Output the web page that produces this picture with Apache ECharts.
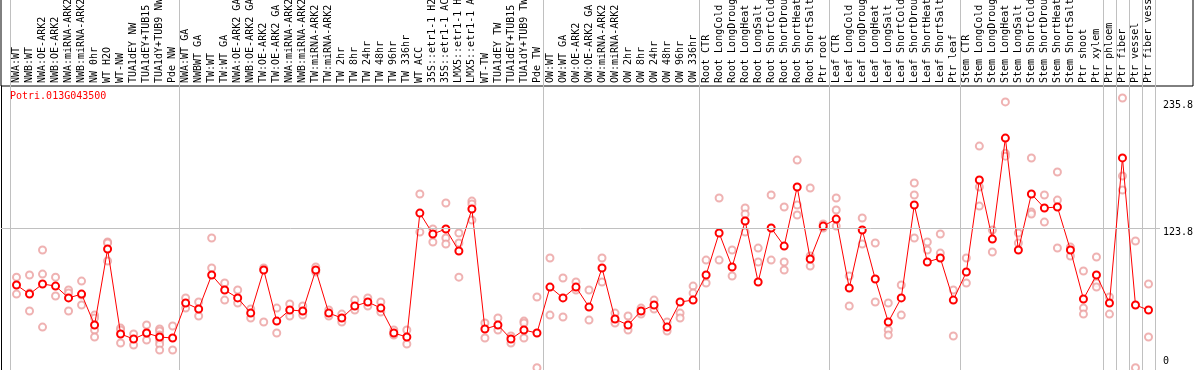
<!DOCTYPE html>
<html><head><meta charset="utf-8">
<script src="https://cdn.jsdelivr.net/npm/echarts@6/dist/echarts.min.js"></script>
<style>html,body{margin:0;padding:0;background:#fff}#c{width:1194px;height:370px}</style>
</head><body><div id="c"></div>
<script>
const geneId = 'Potri.013G043500';
const categories = [
 'NWA:WT','NWB:WT','NWA:OE-ARK2','NWB:OE-ARK2','NWA:miRNA-ARK2','NWB:miRNA-ARK2','NW 0hr','WT H2O','WT-NW','TUA1dEY NW','TUA1dEY+TUB15 NW','TUA1dY+TUB9 NW','Pde NW',
 'NWA:WT GA','NWBWT GA','TW:WT','TW:WT GA','NWA:OE-ARK2 GA','NWB:OE-ARK2 GA','TW:OE-ARK2','TW:OE-ARK2 GA','NWA:miRNA-ARK2 GA','NWB:miRNA-ARK2 GA','TW:miRNA-ARK2','TW:miRNA-ARK2 GA',
 'TW 2hr','TW 8hr','TW 24hr','TW 48hr','TW 96hr','TW 336hr','WT ACC','35S::etr1-1 H2O','35S::etr1-1 ACC','LMX5::etr1-1 H2O','LMX5::etr1-1 ACC','WT-TW','TUA1dEY TW','TUA1dEY+TUB15 TW','TUA1dY+TUB9 TW','Pde TW',
 'OW:WT','OW:WT GA','OW:OE-ARK2','OW:OE-ARK2 GA','OW:miRNA-ARK2','OW:miRNA-ARK2 GA','OW 2hr','OW 8hr','OW 24hr','OW 48hr','OW 96hr','OW 336hr',
 'Root CTR','Root LongCold','Root LongDrought','Root LongHeat','Root LongSalt','Root ShortCold','Root ShortDrought','Root ShortHeat','Root ShortSalt','Ptr root',
 'Leaf CTR','Leaf LongCold','Leaf LongDrought','Leaf LongHeat','Leaf LongSalt','Leaf ShortCold','Leaf ShortDrought','Leaf ShortHeat','Leaf ShortSalt','Ptr leaf',
 'Stem CTR','Stem LongCold','Stem LongDrought','Stem LongHeat','Stem LongSalt','Stem ShortCold','Stem ShortDrought','Stem ShortHeat','Stem ShortSalt','Ptr shoot','Ptr xylem',
 'Ptr phloem','Ptr fiber','Ptr vessel','Ptr fiber vessel'
];
// index of first category of each group (vertical separators)
const groupStarts = [0,13,41,53,63,73,84,85,86,87];
const meanValues = [
 73.2,65.2,74.1,72.3,61.8,65.2,37.8,105.1,29.9,25.4,30.7,27.2,26.3,
 57.3,52.0,82.1,68.8,61.8,48.4,86.5,41.3,51.1,50.2,86.5,48.4,44.0,54.6,58.2,52.8,30.7,27.2,136.9,118.4,122.8,103.3,140.5,34.3,37.8,25.4,33.4,30.7,
 71.4,61.8,71.4,53.7,88.3,43.1,37.8,50.2,55.5,36.0,58.2,59.9,
 82.1,119.3,89.2,129.9,75.9,123.7,107.7,160.0,96.2,125.4,
 131.6,70.6,121.9,78.5,40.5,61.8,144.0,93.6,97.1,59.9,
 84.7,166.2,113.9,203.3,104.2,153.8,141.4,142.3,104.2,60.8,82.1,
 57.3,185.7,55.5,51.1
];
const replicateValues = [
 [80.2,65.2],[82.1,50.2,66.1],[104.2,82.9,36.0],[80.2,63.5],[68.8,66.1,50.2],[76.7,55.5,64.4],[46.6,44.0,33.4,27.2],[111.3,110.4,94.5],[35.1,21.9,33.4],[29.9,20.1],[37.8,24.5,30.7],[34.3,32.5,28.9,24.5,21.0,15.7],[36.9,15.7],
 [61.8,52.8],[58.2,45.8],[114.8,88.3],[75.0,59.9],[68.8,57.3],[52.0,44.0],[88.3,40.5],[52.8,30.7],[56.4,45.8],[54.6,46.6],[89.2,84.7],[51.1,45.8],[47.5,40.5],[59.9,51.1],[61.8,54.6],[58.2,49.3],[33.4,28.9],[33.4,21.0],[153.8,120.1],[122.8,111.3],[145.8,114.8,109.5],[119.3,110.4,80.2],[147.5,144.9,130.7],[39.6,26.3],[44.0,33.4],[28.1,21.9],[41.3,39.6,26.3],[62.6,0],
 [97.1,46.6],[79.4,44.9],[75.9,68.8],[68.8,42.2],[97.1,75.9],[48.4,39.6],[45.8,33.4],[52.8,47.5],[59.9,52.0],[40.5,32.5],[48.4,44.0],[72.3,66.1],
 [95.3,75.0],[150.2,95.3],[104.2,81.2],[141.4,136.1,120.1],[105.9,93.6],[152.9,95.3],[142.3,93.6,86.5],[183.8,144.0,135.2],[159.1,98.9,90.0],[127.2,123.7],
 [150.2,139.6,125.4],[81.2,54.6],[132.5,109.5],[110.4,58.2],[57.3,33.4,28.9],[73.2,46.6],[163.5,152.9,114.8],[111.3,104.2],[118.4,101.5],[68.8,28.1],
 [97.1,75.0],[196.2,160.0,143.1],[121.9,102.4],[235.3,189.8,187.3],[119.3,110.4],[185.6,137.8,136.1],[152.9,128.9],[173.3,148.4,106.0],[106.8,98.9],[85.6,52.8,47.5],[98.0,75.0,71.4],
 [62.6,47.5],[238.8,169.7,157.3],[112.2,0],[74.1,27.2]
];
const yTickValues = [0, 123.8, 235.8];
const gridLineValue = 123.8;

const mono = 'DejaVu Sans Mono';
const replicatePoints = [];
replicateValues.forEach((arr, i) => arr.forEach(v => replicatePoints.push([i, v])));

const chart = echarts.init(document.getElementById('c'), null, {renderer: 'canvas'});
chart.setOption({
  animation: false,
  backgroundColor: '#fff',
  title: {text: geneId, left: 5, top: 86, textStyle: {color: '#ff0000', fontFamily: mono, fontSize: 10, fontWeight: 'normal'}},
  grid: [
    {left: 10, right: 39, top: 0, bottom: 0, outerBoundsMode: 'none', containLabel: false},
    {left: 1, right: 1, top: -5, bottom: 284, outerBoundsMode: 'none', show: true, borderColor: '#000', borderWidth: 1, backgroundColor: 'transparent'},
    {left: 1, right: 34, top: 86, bottom: 0, outerBoundsMode: 'none'}
  ],
  xAxis: [
    {type: 'category', gridIndex: 0, data: categories, position: 'top', offset: -86, boundaryGap: true,
     axisLine: {show: false}, axisTick: {show: false},
     axisLabel: {interval: 0, rotate: 90, margin: 3, fontFamily: mono, fontSize: 10, color: '#000'},
     splitLine: {show: true, interval: (idx) => groupStarts.includes(idx), lineStyle: {color: '#c0c0c0', width: 1}}},
    {type: 'value', gridIndex: 1, show: false},
    {type: 'value', gridIndex: 2, show: false}
  ],
  yAxis: [
    {type: 'value', gridIndex: 0, min: -2, max: 325.5, position: 'right',
     splitLine: {show: false}, axisLine: {show: false}, axisTick: {show: false},
     axisLabel: {customValues: yTickValues, margin: 8, fontFamily: mono, fontSize: 10, color: '#000',
       formatter: (v) => v === 0 ? '{b|0}' : '{a|' + v + '}',
       rich: {a: {fontFamily: mono, fontSize: 10, color: '#000', padding: [9, 0, 0, 0]},
              b: {fontFamily: mono, fontSize: 10, color: '#000', padding: [0, 0, 12, 0]}}}},
    {type: 'value', gridIndex: 1, show: false},
    {type: 'value', gridIndex: 2, min: -2, max: 249.4, position: 'left',
     axisLine: {show: true, lineStyle: {color: '#000', width: 1}}, axisTick: {show: false}, axisLabel: {show: false}, splitLine: {show: false}}
  ],
  series: [
    {type: 'line', xAxisIndex: 2, yAxisIndex: 2, data: [], silent: true,
     markLine: {silent: true, symbol: 'none', label: {show: false}, lineStyle: {color: '#c0c0c0', width: 1, type: 'solid'},
       data: [{yAxis: gridLineValue}]}},
    {type: 'scatter', xAxisIndex: 0, yAxisIndex: 0, data: replicatePoints, symbol: 'emptyCircle', symbolSize: 7,
     itemStyle: {color: '#eb9f9f', borderColor: '#eb9f9f', borderWidth: 1.2}, z: 2},
    {type: 'line', xAxisIndex: 0, yAxisIndex: 0, data: meanValues, symbol: 'emptyCircle', symbolSize: 7,
     lineStyle: {color: '#ff0000', width: 1}, itemStyle: {color: '#ff0000', borderColor: '#ff0000', borderWidth: 1.5}, z: 3}
  ]
});
</script></body></html>
